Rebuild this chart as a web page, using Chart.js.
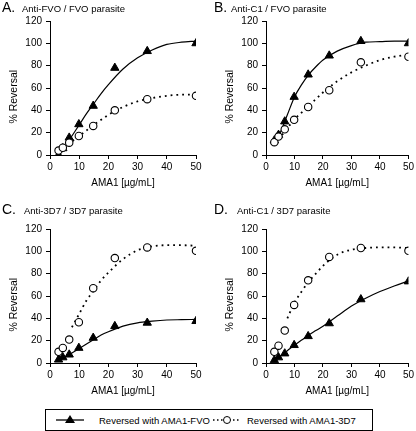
<!DOCTYPE html>
<html>
<head>
<meta charset="utf-8">
<script src="https://cdn.jsdelivr.net/npm/chart.js@4.4.0/dist/chart.umd.min.js"></script>
<style>
  body { margin: 0; background: #fff; font-family: "Liberation Sans", Arial, sans-serif; color: #000; }
  #wrap { position: relative; width: 416px; height: 431px; overflow: hidden; }
  canvas { position: absolute; }
  .big { position: absolute; font-size: 14px; line-height: 14px; }
  .sub { position: absolute; font-size: 9.5px; line-height: 10px; white-space: nowrap; }
  #legend { position: absolute; left: 45px; top: 409px; width: 326px; height: 20px; border: 1px solid #000; font-size: 9.5px; }
  #legend span { position: absolute; top: 5px; white-space: nowrap; }
  #legend svg { position: absolute; top: 3px; }
</style>
</head>
<body>
<div id="wrap">
  <canvas id="chA" width="208" height="200" style="left:0;top:0"></canvas>
  <canvas id="chB" width="200" height="200" style="left:216px;top:0"></canvas>
  <canvas id="chC" width="208" height="200" style="left:0;top:208px"></canvas>
  <canvas id="chD" width="200" height="200" style="left:216px;top:208px"></canvas>

  <div class="big" style="left:2px;top:0px">A.</div>
  <div class="sub" style="left:22px;top:4px">Anti-FVO / FVO parasite</div>
  <div class="big" style="left:214px;top:0px">B.</div>
  <div class="sub" style="left:231px;top:4px">Anti-C1 / FVO parasite</div>
  <div class="big" style="left:2px;top:202px">C.</div>
  <div class="sub" style="left:24px;top:206px">Anti-3D7 / 3D7 parasite</div>
  <div class="big" style="left:214px;top:202px">D.</div>
  <div class="sub" style="left:237px;top:206px">Anti-C1 / 3D7 parasite</div>

  <div id="legend">
    <svg width="28" height="14" style="left:10px">
      <line x1="0" y1="7" x2="28" y2="7" stroke="#000" stroke-width="1.3"/>
      <polygon points="14,2 19,10 9,10" fill="#000"/>
    </svg>
    <span style="left:53px">Reversed with AMA1-FVO</span>
    <svg width="28" height="14" style="left:167px">
      <line x1="0" y1="7" x2="28" y2="7" stroke="#000" stroke-width="1.5" stroke-dasharray="1.5,2.5"/>
      <circle cx="14" cy="7" r="3.5" fill="#fff" stroke="#000" stroke-width="1"/>
    </svg>
    <span style="left:201px">Reversed with AMA1-3D7</span>
  </div>
</div>

<script>
// AMA1 농도 (ug/mL)
var conc = [2.93, 4.39, 6.58, 9.88, 14.8, 22.2, 33.3, 50];

// 측정값 (% Reversal) - AMA1-FVO / AMA1-3D7
var fvoA  = [0, 6, 15.5, 27.5, 44, 78, 93, 100];
var d3d7A = [4, 6.5, 11, 17, 26, 40, 50, 53];
var fvoB  = [13, 18, 30, 52, 72, 89, 102, 100];
var d3d7B = [11.5, 16.5, 23, 31.5, 43, 58, 83, 88];
var fvoC  = [3, 5, 7.5, 13.5, 22.5, 33, 36, 37.5];
var d3d7C = [10, 13.5, 21, 36.5, 67, 94, 103.5, 100.5];
var fvoD  = [2.5, 5, 8.5, 16, 24, 35.5, 57, 73];
var d3d7D = [10, 15.5, 29, 52, 74, 95, 103, 100.5];

// 피팅 곡선
var fitX     = [3, 5, 7.5, 10, 12.5, 15, 17.5, 20, 25, 30, 35, 40, 45, 50];
var fitFvoA  = [0, 7, 17, 27, 37, 46, 55, 63, 77, 87, 94, 99, 101, 102];
var fitD3d7A = [3, 7, 12, 17, 22, 27, 31.5, 36, 43, 48, 51, 53, 54, 54];
var fitFvoB  = [12, 20, 36, 52, 63, 72, 79, 85, 93, 98, 101, 101.5, 102, 102];
var fitD3d7B = [10, 16, 24, 32, 38, 44, 50, 56, 66, 74, 80, 85, 88, 90];
var fitFvoC  = [2, 5, 9, 13, 17, 21, 25, 28, 33, 36, 37.5, 38.5, 38.8, 39];
var fitD3d7C = [null, null, 32, 44, 56, 65, 74, 81, 93, 101, 104.5, 105.5, 105.5, 105];
var fitFvoD  = [2, 6, 11, 16, 20.5, 25, 29, 33, 42, 51, 58, 64, 69, 73.5];
var fitD3d7D = [null, null, 40, 54, 64, 73, 80, 87, 97, 101.5, 103, 103.5, 103.5, 103];

var xTicks = [0, 10, 20, 30, 40, 50];
var yTicks = [0, 20, 40, 60, 80, 100, 120];

Chart.defaults.font.family = '"Liberation Sans", Arial, sans-serif';
Chart.defaults.color = '#000';

function pts(xs, ys) {
  return xs.map(function(x, i){ return {x: x, y: ys[i]}; });
}

function makePanel(id, tri, circ, fitTri, fitCirc, padRight) {
  new Chart(document.getElementById(id), {
    type: 'scatter',
    data: {
      datasets: [
        { // 원 (AMA1-3D7) - 맨 위에 그림
          data: pts(conc, circ), pointStyle: 'circle', pointRadius: 3.7,
          backgroundColor: '#fff', borderColor: '#000', borderWidth: 1.1, showLine: false
        },
        { // 삼각형 (AMA1-FVO)
          data: pts(conc, tri), pointStyle: 'triangle', pointRadius: 4.8,
          backgroundColor: '#000', borderColor: '#000', borderWidth: 1, showLine: false
        },
        { // 실선 피팅
          data: pts(fitX, fitTri), showLine: true, pointRadius: 0,
          borderColor: '#000', borderWidth: 1.2, cubicInterpolationMode: 'monotone'
        },
        { // 점선 피팅
          data: pts(fitX, fitCirc), showLine: true, pointRadius: 0,
          borderColor: '#000', borderWidth: 1.8, borderDash: [1.8, 4],
          cubicInterpolationMode: 'monotone'
        }
      ]
    },
    options: {
      responsive: false,
      animation: false,
      layout: { padding: { top: 21, right: padRight, left: 0, bottom: 0 } },
      plugins: { legend: { display: false }, tooltip: { enabled: false } },
      scales: {
        x: {
          type: 'linear', min: 0, max: 50,
          afterFit: function(s){ s.height = 45; },
          afterBuildTicks: function(s){ s.ticks = xTicks.map(function(v){ return {value: v}; }); },
          ticks: { padding: 2, font: { size: 10 } },
          grid: { drawOnChartArea: false, tickLength: 4, color: '#000' },
          border: { color: '#000', width: 1 },
          title: { display: true, text: 'AMA1 [µg/mL]', font: { size: 10 }, padding: { top: 0, bottom: 11 } }
        },
        y: {
          min: 0, max: 120,
          afterFit: function(s){ s.width = 50; },
          afterBuildTicks: function(s){ s.ticks = yTicks.map(function(v){ return {value: v}; }); },
          ticks: { padding: 4, font: { size: 10 } },
          grid: { drawOnChartArea: false, tickLength: 4, color: '#000' },
          border: { color: '#000', width: 1 },
          // 뒤쪽 공백으로 제목을 조금 아래로 내림
          title: { display: true, text: '% Reversal\u00a0\u00a0\u00a0\u00a0\u00a0\u00a0', font: { size: 10.5 }, padding: { top: 8, bottom: 0 } }
        }
      }
    }
  });
}

makePanel('chA', fvoA, d3d7A, fitFvoA, fitD3d7A, 12);
makePanel('chB', fvoB, d3d7B, fitFvoB, fitD3d7B, 6);
makePanel('chC', fvoC, d3d7C, fitFvoC, fitD3d7C, 12);
makePanel('chD', fvoD, d3d7D, fitFvoD, fitD3d7D, 6);
</script>
</body>
</html>
